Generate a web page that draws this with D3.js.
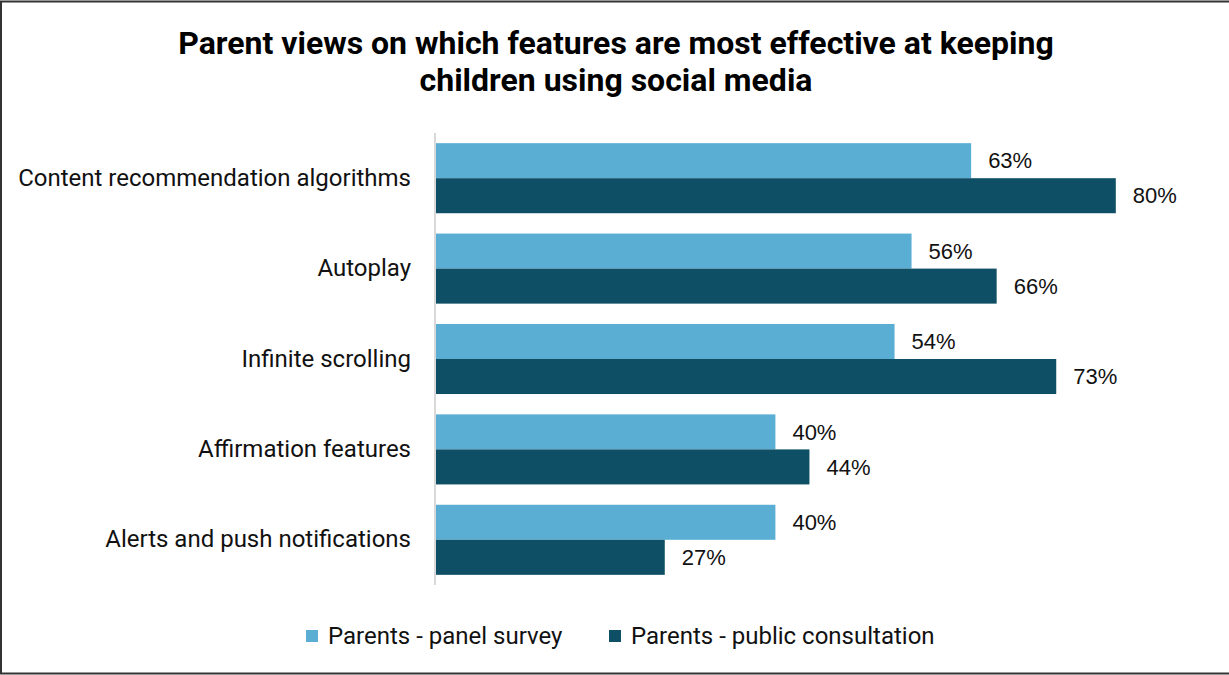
<!DOCTYPE html>
<html>
<head>
<meta charset="utf-8">
<script src="https://cdn.jsdelivr.net/npm/d3@7"></script>
<style>
  html, body { margin: 0; padding: 0; background: #fff; }
  svg { display: block; }
</style>
</head>
<body>
<svg id="chart" width="1229" height="675"></svg>
<script>
// Survey data: share of parents naming each feature as effective
const categories = [
  "Content recommendation algorithms",
  "Autoplay",
  "Infinite scrolling",
  "Affirmation features",
  "Alerts and push notifications"
];
const seriesNames = ["Parents - panel survey", "Parents - public consultation"];
const panelSurvey = [63, 56, 54, 40, 40];
const publicConsultation = [80, 66, 73, 44, 27];
const colors = ["#5BAED3", "#0E4F66"];

const svg = d3.select("#chart");
const W = 1229, H = 675;

// outer frame
svg.append("rect")
  .attr("x", 1).attr("y", 1.5)
  .attr("width", W + 4).attr("height", H - 3)
  .attr("fill", "#fff")
  .attr("stroke", "#333").attr("stroke-width", 2);

// title
const title = svg.append("text")
  .attr("x", 616).attr("text-anchor", "middle")
  .attr("font-family", "Roboto, sans-serif")
  .attr("font-weight", "bold")
  .attr("font-size", 32)
  .attr("fill", "#000");
title.append("tspan").attr("x", 616).attr("y", 54)
  .text("Parent views on which features are most effective at keeping");
title.append("tspan").attr("x", 616).attr("y", 91)
  .text("children using social media");

// scales
const x = d3.scaleLinear().domain([0, 100]).range([435, 1286]);
const y0 = d3.scaleBand().domain(categories).range([133, 585])
  .paddingInner(0.225).paddingOuter(0.1125);
const y1 = d3.scaleBand().domain(seriesNames).range([0, y0.bandwidth()]);

const rows = categories.map((c, i) => ({
  cat: c,
  vals: [
    { s: seriesNames[0], v: panelSurvey[i], color: colors[0] },
    { s: seriesNames[1], v: publicConsultation[i], color: colors[1] }
  ]
}));

const groups = svg.append("g").selectAll("g")
  .data(rows).join("g")
  .attr("transform", d => `translate(0,${y0(d.cat)})`);

groups.selectAll("rect")
  .data(d => d.vals).join("rect")
  .attr("x", x(0))
  .attr("y", d => y1(d.s))
  .attr("width", d => x(d.v) - x(0))
  .attr("height", y1.bandwidth())
  .attr("fill", d => d.color);

groups.selectAll("text.val")
  .data(d => d.vals).join("text")
  .attr("class", "val")
  .attr("x", d => x(d.v) + 17)
  .attr("y", d => y1(d.s) + y1.bandwidth() / 2)
  .attr("dy", "0.35em")
  .attr("font-family", "'Liberation Sans', Arial, sans-serif")
  .attr("font-size", 22)
  .attr("fill", "#111")
  .text(d => d.v + "%");

// category axis
const yAxis = svg.append("g")
  .attr("transform", `translate(${x(0)},0)`)
  .call(d3.axisLeft(y0).tickSize(0).tickPadding(24));
yAxis.select(".domain").attr("stroke", "#d9d9d9").attr("stroke-width", 2)
  .attr("d", "M0,133V585");
yAxis.selectAll("text")
  .attr("font-family", "Roboto, sans-serif")
  .attr("font-size", 24)
  .attr("fill", "#111");

// legend
const legend = svg.append("g");
const legendX = [306, 609];
seriesNames.forEach((name, i) => {
  legend.append("rect")
    .attr("x", legendX[i]).attr("y", 630)
    .attr("width", 12).attr("height", 12)
    .attr("fill", colors[i]);
  legend.append("text")
    .attr("x", legendX[i] + 22).attr("y", 636)
    .attr("dy", "0.35em")
    .attr("font-family", "Roboto, sans-serif")
    .attr("font-size", 24)
    .attr("fill", "#111")
    .text(name);
});
</script>
</body>
</html>
